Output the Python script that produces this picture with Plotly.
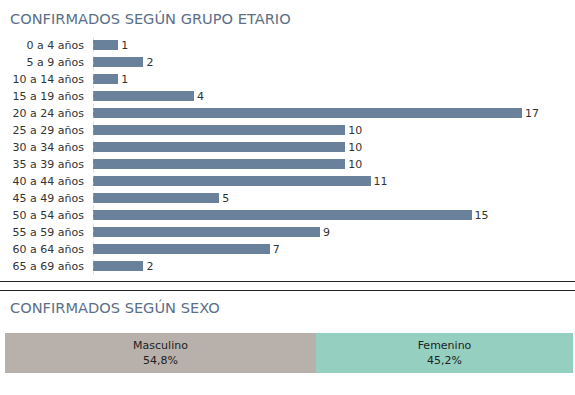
import plotly.graph_objects as go

age_groups = ["0 a 4 años", "5 a 9 años", "10 a 14 años", "15 a 19 años", "20 a 24 años",
              "25 a 29 años", "30 a 34 años", "35 a 39 años", "40 a 44 años", "45 a 49 años",
              "50 a 54 años", "55 a 59 años", "60 a 64 años", "65 a 69 años"]
age_counts = [1, 2, 1, 4, 17, 10, 10, 10, 11, 5, 15, 9, 7, 2]

sex_labels = ["Masculino", "Femenino"]
sex_pct = [54.8, 45.2]
sex_pct_text = ["54,8%", "45,2%"]
sex_colors = ["#b8b0ab", "#94cfc0"]

title1 = "CONFIRMADOS SEGÚN GRUPO ETARIO"
title2 = "CONFIRMADOS SEGÚN SEXO"

W, H = 575, 395
FONT = "DejaVu Sans"
TITLE_COLOR = "#5b6f88"

def py(pix):
    return (H - pix) / H

fig = go.Figure()

fig.add_trace(go.Bar(
    x=age_counts, y=age_groups, orientation="h",
    marker=dict(color="#6a819b", line=dict(width=0)),
    width=0.6,
    text=[str(v) for v in age_counts], textposition="outside",
    textfont=dict(family=FONT, size=11.5, color="#333333"),
    cliponaxis=False, xaxis="x", yaxis="y", showlegend=False,
    hoverinfo="x+y",
))

for lab, pct, txt, col in zip(sex_labels, sex_pct, sex_pct_text, sex_colors):
    fig.add_trace(go.Bar(
        x=[pct], y=[0], orientation="h",
        marker=dict(color=col, line=dict(width=0)),
        width=1,
        text=[f"{lab}<br>{txt}"], textposition="inside", insidetextanchor="middle",
        textfont=dict(family=FONT, size=11, color="#222222"),
        xaxis="x2", yaxis="y2", showlegend=False, name=lab,
    ))

x0 = 93
scale = (522 - 93) / 17
fig.update_layout(
    width=W, height=H,
    margin=dict(l=0, r=0, t=0, b=0),
    paper_bgcolor="white", plot_bgcolor="white",
    barmode="stack",
    uniformtext=dict(mode="show", minsize=8),
    xaxis=dict(domain=[x0 / W, 1], range=[0, (W - x0) / scale], visible=False,
               showgrid=False, zeroline=False, fixedrange=True),
    yaxis=dict(domain=[py(274.5), py(36.5)], range=[13.5, -0.5], type="category",
               categoryorder="array", categoryarray=age_groups,
               showgrid=False, zeroline=False, showline=False, ticks="",
               ticklabelstandoff=8,
               tickfont=dict(family=FONT, size=11, color="#333333"), fixedrange=True),
    xaxis2=dict(domain=[5 / W, 573 / W], range=[0, 100], visible=False, anchor="y2",
                fixedrange=True),
    yaxis2=dict(domain=[py(373), py(333)], range=[-0.5, 0.5], visible=False, anchor="x2",
                fixedrange=True),
    annotations=[
        dict(text=title1, x=8 / W, y=py(18), xref="paper", yref="paper",
             xanchor="left", yanchor="middle", showarrow=False,
             font=dict(family=FONT, size=14.6, color=TITLE_COLOR)),
        dict(text=title2, x=8 / W, y=py(307), xref="paper", yref="paper",
             xanchor="left", yanchor="middle", showarrow=False,
             font=dict(family=FONT, size=14.6, color=TITLE_COLOR)),
    ],
    shapes=[
        dict(type="line", xref="x", yref="y domain", x0=0, x1=0, y0=0, y1=1,
             line=dict(color="#bbbbbb", width=1, dash="dot")),
        dict(type="line", xref="paper", yref="paper", x0=0, x1=1, y0=py(281.5), y1=py(281.5),
             line=dict(color="#222222", width=1)),
        dict(type="line", xref="paper", yref="paper", x0=0, x1=1, y0=py(290.5), y1=py(290.5),
             line=dict(color="#222222", width=1)),
    ],
)

fig.write_html("out.html", config={"displayModeBar": False},
               post_script="document.body.style.margin='0';document.body.style.overflow='hidden';")
